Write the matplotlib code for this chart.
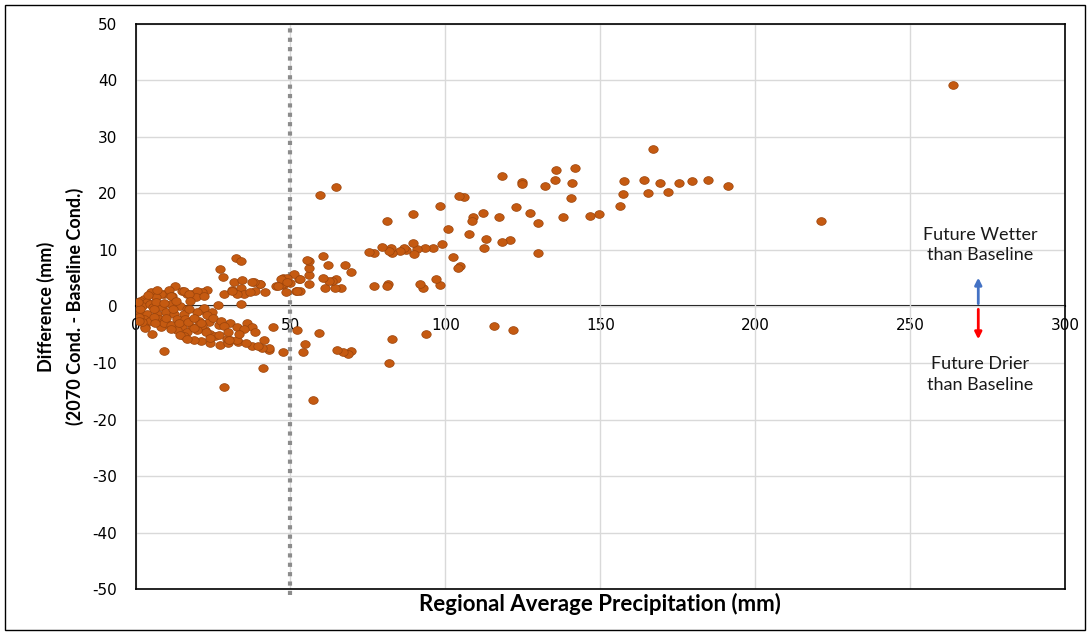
import numpy as np
import matplotlib
matplotlib.use("Agg")
import matplotlib.pyplot as plt
from matplotlib.path import Path
from matplotlib.patches import Rectangle

plt.rcParams["axes.unicode_minus"] = False

# points: (precip, difference)
far_x = [263.9, 221.2]
far_y = [39.2, 15.2]

high_x = [191.1, 184.8, 179.6, 175.4, 171.9, 169.2, 166.9, 165.4, 164.0, 157.6, 157.4, 156.3,
          149.5, 146.8, 141.9, 140.9, 140.5, 137.9, 135.8, 135.4, 132.1, 130.0, 129.8, 127.4,
          124.9, 124.7, 122.9, 120.9, 118.4, 118.2, 117.2, 113.1, 112.6, 112.2, 115.7, 121.8]
high_y = [21.4, 22.4, 22.3, 21.9, 20.2, 21.9, 27.8, 20.1, 22.4, 22.2, 19.9, 17.8,
          16.4, 16.0, 24.6, 21.8, 19.2, 15.9, 24.1, 22.4, 21.4, 14.8, 9.5, 16.6,
          22.0, 21.6, 17.6, 11.7, 11.5, 23.1, 15.9, 12.0, 10.3, 16.6, -3.5, -4.1]

mid_x = [108.9, 108.6, 107.6, 106.0, 104.3, 104.7, 104.2, 102.6, 100.9, 99.0, 98.2, 98.2,
         97.1, 96.1, 93.4, 92.7, 91.9, 90.9, 90.0, 89.7, 89.7, 87.4, 86.7, 85.5,
         82.8, 82.6, 81.9, 81.4, 81.1, 81.1, 79.7, 77.1, 76.9, 75.4, 93.6, 82.9, 81.8]
mid_y = [15.9, 15.2, 12.8, 19.3, 19.5, 7.2, 6.9, 8.7, 13.7, 11.1, 17.8, 3.8,
         4.9, 10.4, 10.3, 3.2, 3.9, 10.1, 9.3, 16.3, 11.2, 10.0, 10.4, 9.8,
         9.5, 10.4, 9.8, 4.0, 3.7, 15.2, 10.5, 9.5, 3.6, 9.7, -4.8, -5.8, -10.0]

near_x = [69.5, 67.6, 66.4, 64.5, 61.0, 64.8, 63.3, 62.5, 60.4, 62.2, 60.5, 64.7, 59.5,
          56.1, 55.9, 55.9, 55.9, 55.4, 53.0, 51.9, 52.7, 51.1, 53.2, 50.0, 52.2,
          69.6, 68.7, 67.0, 65.0, 59.3, 52.2, 54.7, 53.9, 57.3,
          47.6, 48.9, 47.6, 48.7, 47.3, 46.8, 45.2, 46.0, 48.9, 47.5, 44.4, 43.0,
          43.0, 41.4, 40.9, 41.2, 41.9, 40.1, 40.3, 38.2, 38.7]
near_y = [6.1, 7.3, 3.3, 3.3, 3.2, 4.8, 4.6, 4.6, 5.0, 7.4, 9.0, 21.2, 19.7,
          4.0, 5.5, 6.8, 8.0, 8.2, 2.8, 2.8, 4.8, 5.8, 4.8, 4.1, 2.8,
          -7.8, -8.4, -8.0, -7.7, -4.7, -4.1, -6.6, -8.1, -16.5,
          5.0, 5.0, 3.8, 2.5, 4.0, 4.9, 3.7, 3.7, 4.3, -8.0, -3.7, -7.7,
          -7.4, -6.0, -7.4, -10.8, 2.5, 3.9, 4.0, 4.3, 2.8]

low_x = [32.3, 34.2, 27.2, 28.3, 31.7, 34.4, 37.6, 31.2, 33.9, 34.9, 37.1, 28.5, 23.1,
         21.5, 33.9, 26.5, 21.5, 32.8, 31.2, 23.6, 22.3, 26.9, 30.6, 32.6, 36.0, 37.6,
         24.2, 29.6, 27.4, 37.6, 39.6, 24.2, 29.8, 33.0, 28.5, 25.8, 21.0, 22.6,
         26.9, 24.2, 30.6, 32.8, 30.1, 22.0, 24.7, 23.0, 25.0, 27.5, 28.5, 30.0,
         35.0, 38.5, 33.5, 35.8]
low_y = [8.5, 8.0, 6.7, 5.2, 4.3, 4.7, 4.4, 3.0, 3.2, 2.2, 2.5, 2.2, 3.0,
         2.5, 0.5, 0.2, -0.7, 2.3, 2.8, -2.8, -4.2, -3.2, -2.9, -3.7, -3.0, -3.6,
         -4.8, -5.7, -6.9, -7.0, -7.0, -6.4, -6.4, -6.3, -14.2, -5.3, -6.1, -4.5,
         -5.1, -5.5, -6.0, -6.0, -5.9, -0.3, -0.9, -1.5, -2.0, -2.5, -3.5, -4.5,
         -4.0, -4.5, -4.8, -6.5]

origin_x = [12.6, 5.1, 9.1, 10.8, 15.1, 16.7, 18.3, 19.9, 19.4, 22.0, 11.8, 8.1, 6.5,
            2.7, 1.6, 3.8, 0.0, 0.5, 2.2, 4.8, 5.7, 8.6, 11.3, 14.5, 16.7, 19.9,
            1.6, 3.8, 7.0, 9.7, 12.4, 15.6, 2.7, 4.8, 7.5, 9.1, 13.4, 16.1, 20.4,
            3.2, 8.1, 10.7, 15.1, 18.3, 21.5, 5.4, 13.4, 16.7, 19.9, 15.6, 18.8,
            14.5, 9.1, 15.6, 17.2, 11.3, 1.4, 6.5, 9.1, 5.9, 17.2, 9.1, 11.3,
            18.8, 21.0, 3.2, 16.7, 1.0, 2.0, 6.0, 10.0, 12.0, 13.0, 17.5, 7.0,
            4.0, 0.8, 1.2, 6.2, 11.5, 14.0, 17.0, 19.0]
origin_y = [3.7, 2.5, 2.3, 2.9, 2.8, 2.3, 2.3, 2.7, 1.6, 1.9, 1.9, 2.2, 1.6,
            1.3, 1.0, 0.8, 0.2, -0.4, 0.0, 0.5, -0.1, -0.1, 0.5, 0.0, -0.4, -1.0,
            -1.0, -1.3, -1.3, -1.0, -1.3, -1.3, -2.2, -2.5, -2.2, -2.5, -2.2, -2.2, -2.5,
            -3.6, -3.6, -3.3, -3.6, -3.6, -3.3, -4.8, -4.2, -4.5, -4.2, -5.3, -5.9,
            -5.1, -7.9, 2.7, 2.3, 1.8, -0.4, 0.8, 0.6, -0.5, -0.5, -3.0, -3.3,
            -3.8, -3.0, -3.8, -5.7, -1.8, -2.8, -1.8, -2.0, -0.5, 1.0, 1.0, 3.0,
            2.0, 0.8, -2.5, -3.0, -4.0, -3.0, -2.8, -2.0]

x_vals = far_x + high_x + mid_x + near_x + low_x + origin_x
y_vals = far_y + high_y + mid_y + near_y + low_y + origin_y

x_ticks = [0, 50, 100, 150, 200, 250, 300]
y_ticks = list(range(-50, 51, 10))
threshold = 50

# slightly flattened dot like the Excel marker
t = np.linspace(0, 2 * np.pi, 41)
ellipse = Path(np.column_stack([np.cos(t), 0.82 * np.sin(t)]), closed=True)

fig = plt.figure(figsize=(10.91, 6.33), dpi=100)
ax = fig.add_axes([0.1242, 0.0695, 0.852, 0.8926])

ax.set_xlim(0, 300)
ax.set_ylim(-50, 50)
ax.set_xticks(x_ticks)
ax.set_yticks(y_ticks)
ax.grid(True, color="#d9d9d9", lw=1)
ax.set_axisbelow(True)
ax.tick_params(axis="x", labelbottom=False, length=0)
ax.tick_params(axis="y", length=0, pad=13, labelsize=11)
for s in ax.spines.values():
    s.set_color("black")
    s.set_linewidth(1.2)

# x axis drawn through zero, labels hanging below it
sec = ax.secondary_xaxis(0.5)
sec.set_alignment("bottom")
sec.set_xticks(x_ticks)
sec.tick_params(length=0, pad=8, labelsize=11)
sec.spines["bottom"].set_linewidth(1.5)
sec.spines["bottom"].set_color("black")

ax.axvline(threshold, ymin=-0.01, ymax=1, color="#8c8c8c", lw=3,
           linestyle=(0, (1, 1.25)), zorder=2, clip_on=False)

ax.scatter(x_vals, y_vals, s=46, marker=ellipse, facecolor="#c55a11",
           edgecolor="#9a440c", linewidths=0.5, zorder=3)

ax.annotate("", xy=(272, 5.6), xytext=(272, 0),
            arrowprops=dict(arrowstyle="-|>", color="#4472c4", lw=2, mutation_scale=10))
ax.annotate("", xy=(272, -6.3), xytext=(272, 0),
            arrowprops=dict(arrowstyle="-|>", color="red", lw=2, mutation_scale=10))
ax.text(272.7, 10.9, "Future Wetter\nthan Baseline", ha="center", va="center",
        family="Lato", fontsize=13, color="#1a1a1a", linespacing=1.35)
ax.text(272.7, -12.0, "Future Drier\nthan Baseline", ha="center", va="center",
        family="Lato", fontsize=13, color="#1a1a1a", linespacing=1.35)

ax.set_xlabel("Regional Average Precipitation (mm)", family="Lato", fontweight="bold",
              fontsize=16, labelpad=3)
ax.set_ylabel("Difference (mm)\n(2070 Cond. - Baseline Cond.)", family="Lato",
              fontweight="bold", fontsize=13, labelpad=6, multialignment="center",
              linespacing=1.75)

fig.patches.append(Rectangle((0.0046, 0.0047), 0.99, 0.987, transform=fig.transFigure,
                             fill=False, edgecolor="black", lw=1))

fig.savefig("out.png", dpi=100)
